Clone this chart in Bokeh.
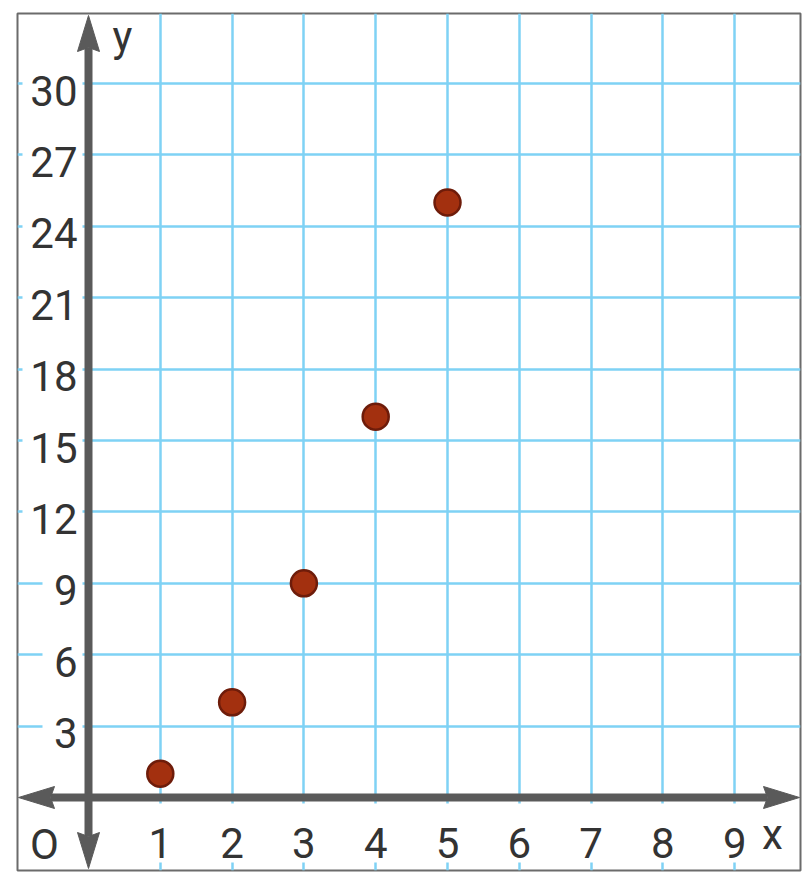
from bokeh.plotting import figure
from bokeh.models import Range1d, FixedTicker, Grid
from bokeh.core.properties import value
from bokeh.embed import file_html
from bokeh.resources import INLINE

# ---- data ----
x_vals = [1, 2, 3, 4, 5]
y_vals = [1, 4, 9, 16, 25]
x_ticks = [1, 2, 3, 4, 5, 6, 7, 8, 9]
y_ticks = [3, 6, 9, 12, 15, 18, 21, 24, 27, 30]
x_tick_labels = ["1", "2", "3", "4", "5", "6", "7", "8", "9"]
y_tick_labels = ["3", "6", "9", "12", "15", "18", "21", "24", "27", "30"]

# ---- geometry (pixels per data unit) ----
PX_X = 71.8
PX_Y = 71.4 / 3
FW, FH = 783, 857
X0 = -71 / PX_X
X1 = X0 + FW / PX_X
Y0 = -73 / PX_Y
Y1 = Y0 + FH / PX_Y

GRID = "#7fd2f5"
AXIS = "#5a5a5a"
TEXT = "#333333"
FONT = value("Roboto")
FS = "42px"
TB = 14  # baseline correction (px)

p = figure(width=806, height=879, x_range=Range1d(X0, X1), y_range=Range1d(Y0, Y1),
           output_backend="svg", toolbar_location=None,
           x_axis_location=None, y_axis_location=None,
           min_border_left=17, min_border_top=13, min_border_right=6, min_border_bottom=9)
p.grid.visible = False
p.outline_line_color = "#6b6b6b"
p.outline_line_width = 2
p.background_fill_color = "white"
p.border_fill_color = "white"

p.add_layout(Grid(dimension=0, ticker=FixedTicker(ticks=x_ticks), grid_line_color=GRID, grid_line_width=2.5))
p.add_layout(Grid(dimension=1, ticker=FixedTicker(ticks=y_ticks), grid_line_color=GRID, grid_line_width=2.5))

# white boxes behind tick labels (cover the grid lines)
yl_right = -6 / PX_X
yl_w = [20 * len(s) + 20 for s in y_tick_labels]
yl_cx = [yl_right - (w / 2) / PX_X for w in yl_w]
p.rect(x=yl_cx, y=y_ticks, width=yl_w, height=40, width_units="screen", height_units="screen",
       fill_color="white", line_color=None)
p.rect(x=x_ticks, y=[-35.5 / PX_Y] * len(x_ticks), width=34, height=59,
       width_units="screen", height_units="screen", fill_color="white", line_color=None)

# tick labels
p.text(x=[-11 / PX_X] * len(y_ticks), y=[t - (21 - TB) / PX_Y for t in y_ticks], text=y_tick_labels,
       text_align="right", text_baseline="alphabetic", text_font=FONT, text_font_size=FS,
       text_color=TEXT)
p.text(x=x_ticks, y=[-(59 - TB) / PX_Y] * len(x_ticks), text=x_tick_labels,
       text_align="center", text_baseline="alphabetic", text_font=FONT, text_font_size=FS,
       text_color=TEXT)
p.text(x=[-44 / PX_X], y=[-(61 - TB) / PX_Y], text=["O"], text_align="center",
       text_baseline="alphabetic", text_font=FONT, text_font_size=FS, text_color=TEXT)
p.text(x=[684 / PX_X], y=[-(51 - TB) / PX_Y], text=["x"], text_align="center",
       text_baseline="alphabetic", text_font=FONT, text_font_size=FS, text_color=TEXT)
p.text(x=[34 / PX_X], y=[(747 + TB) / PX_Y], text=["y"], text_align="center",
       text_baseline="alphabetic", text_font=FONT, text_font_size=FS, text_color=TEXT)

# axes with arrowheads
HL, HW, NOTCH = 36, 11, 4
top_tip = Y1 - 2 / PX_Y
bot_tip = Y0 + 2 / PX_Y
left_tip = X0 + 1 / PX_X
right_tip = X1 - 1 / PX_X

p.segment(x0=[0, left_tip + (HL - NOTCH) / PX_X], y0=[bot_tip + (HL - NOTCH) / PX_Y, 0],
          x1=[0, right_tip - (HL - NOTCH) / PX_X], y1=[top_tip - (HL - NOTCH) / PX_Y, 0],
          line_color=AXIS, line_width=8)

def vhead(tx, ty, dx, dy):
    px, py = -dy, dx
    pts = [(0, 0), (dx * HL + px * HW, dy * HL + py * HW), (dx * (HL - NOTCH), dy * (HL - NOTCH)),
           (dx * HL - px * HW, dy * HL - py * HW)]
    return [tx + a / PX_X for a, b in pts], [ty + b / PX_Y for a, b in pts]

heads = [vhead(0, top_tip, 0, -1), vhead(0, bot_tip, 0, 1),
         vhead(left_tip, 0, 1, 0), vhead(right_tip, 0, -1, 0)]
p.patches(xs=[h[0] for h in heads], ys=[h[1] for h in heads], fill_color=AXIS, line_color=AXIS,
          line_width=1)

# data points
p.scatter(x=x_vals, y=y_vals, size=26, fill_color="#a3300f", line_color="#6e1c0a", line_width=2.5)

open("out.html", "w").write(file_html(p, INLINE))
